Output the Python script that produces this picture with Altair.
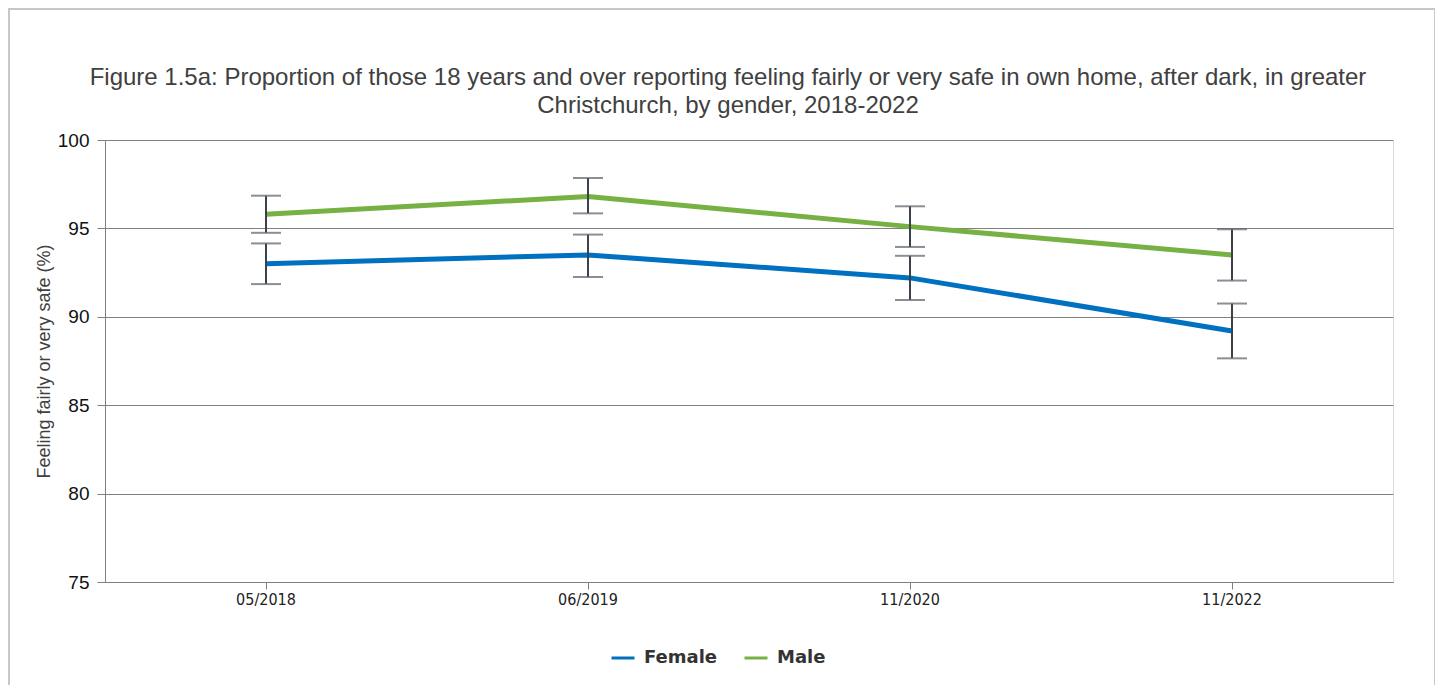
import altair as alt
import pandas as pd

dates = ["05/2018", "06/2019", "11/2020", "11/2022"]
genders = ["Female", "Male"]
female = [93.0, 93.5, 92.2, 89.2]
female_lo = [91.85, 92.25, 90.95, 87.65]
female_hi = [94.15, 94.65, 93.45, 90.75]
male = [95.8, 96.8, 95.1, 93.5]
male_lo = [94.75, 95.85, 93.95, 92.05]
male_hi = [96.85, 97.85, 96.25, 94.95]
y_ticks = [75, 80, 85, 90, 95, 100]
colors = ["#0070C0", "#77B043"]

rows = []
for i, d in enumerate(dates):
    rows.append({"date": d, "gender": "Female", "value": female[i], "lo": female_lo[i], "hi": female_hi[i]})
    rows.append({"date": d, "gender": "Male", "value": male[i], "lo": male_lo[i], "hi": male_hi[i]})
df = pd.DataFrame(rows)

x_enc = alt.X("date:N", sort=dates, title=None,
              scale=alt.Scale(paddingInner=0, paddingOuter=0),
              axis=alt.Axis(labelAngle=0, labelFont="DejaVu Sans Condensed", labelFontSize=16,
                            labelColor="#222222", tickColor="#808080", tickSize=7,
                            domainColor="#808080", labelPadding=2, grid=False))
y_enc = alt.Y("value:Q", scale=alt.Scale(domain=[75, 100], nice=False, zero=False),
              title="Feeling fairly or very safe (%)",
              axis=alt.Axis(values=y_ticks, labelFont="Liberation Sans", labelFontSize=19,
                            labelColor="#111111", tickColor="#808080", tickSize=8,
                            labelPadding=8, domainColor="#808080", gridColor="#808080",
                            titleFont="Liberation Sans", titleFontSize=18, titleColor="#404040",
                            titleFontWeight="normal", titleX=-61, titleY=221,
                            titleAlign="center", titleBaseline="middle", titleAngle=-90))

base = alt.Chart(df)

lines = base.mark_line(strokeWidth=5).encode(
    x=x_enc, y=y_enc,
    color=alt.Color("gender:N", scale=alt.Scale(domain=genders, range=colors), title=None,
                    legend=alt.Legend(orient="none", legendX=505, legendY=505, direction="horizontal",
                                      symbolType="stroke", symbolStrokeWidth=3, symbolSize=529,
                                      labelFont="DejaVu Sans", labelFontWeight="bold",
                                      labelFontSize=18, labelColor="#333333", labelOffset=8,
                                      columnPadding=20)),
)

bars = base.mark_rule(color="#3c414b", strokeWidth=2).encode(
    x=alt.X("date:N", sort=dates), y=alt.Y("lo:Q"), y2="hi:Q")
cap_lo = base.mark_tick(color="#5a5f68", size=30, thickness=2).encode(
    x=alt.X("date:N", sort=dates), y=alt.Y("lo:Q"))
cap_hi = base.mark_tick(color="#5a5f68", size=30, thickness=2).encode(
    x=alt.X("date:N", sort=dates), y=alt.Y("hi:Q"))

frame = alt.Chart(alt.Data(values=[{"a": 1}])).mark_rect(
    fill=None, stroke="#c8c8c8", strokeWidth=2).encode(
    x=alt.value(-96), x2=alt.value(1330), y=alt.value(-131), y2=alt.value(700))

chart = alt.layer(frame, lines, bars, cap_lo, cap_hi).properties(
    width=1288, height=442,
    autosize=alt.AutoSizeParams(type="none"),
    padding={"left": 97, "top": 132, "right": 42, "bottom": 103},
    title=alt.TitleParams(
        text=["Figure 1.5a: Proportion of those 18 years and over reporting feeling fairly or very safe in own home, after dark, in greater",
              "Christchurch, by gender, 2018-2022"],
        font="Liberation Sans", fontSize=24, fontWeight="normal", color="#404040",
        anchor="middle", dx=-21, lineHeight=28, offset=-110),
).configure_view(stroke=None).configure_axisY(grid=True).configure(background="white")

chart.save("out.html", embed_options={"renderer": "svg", "actions": False})
